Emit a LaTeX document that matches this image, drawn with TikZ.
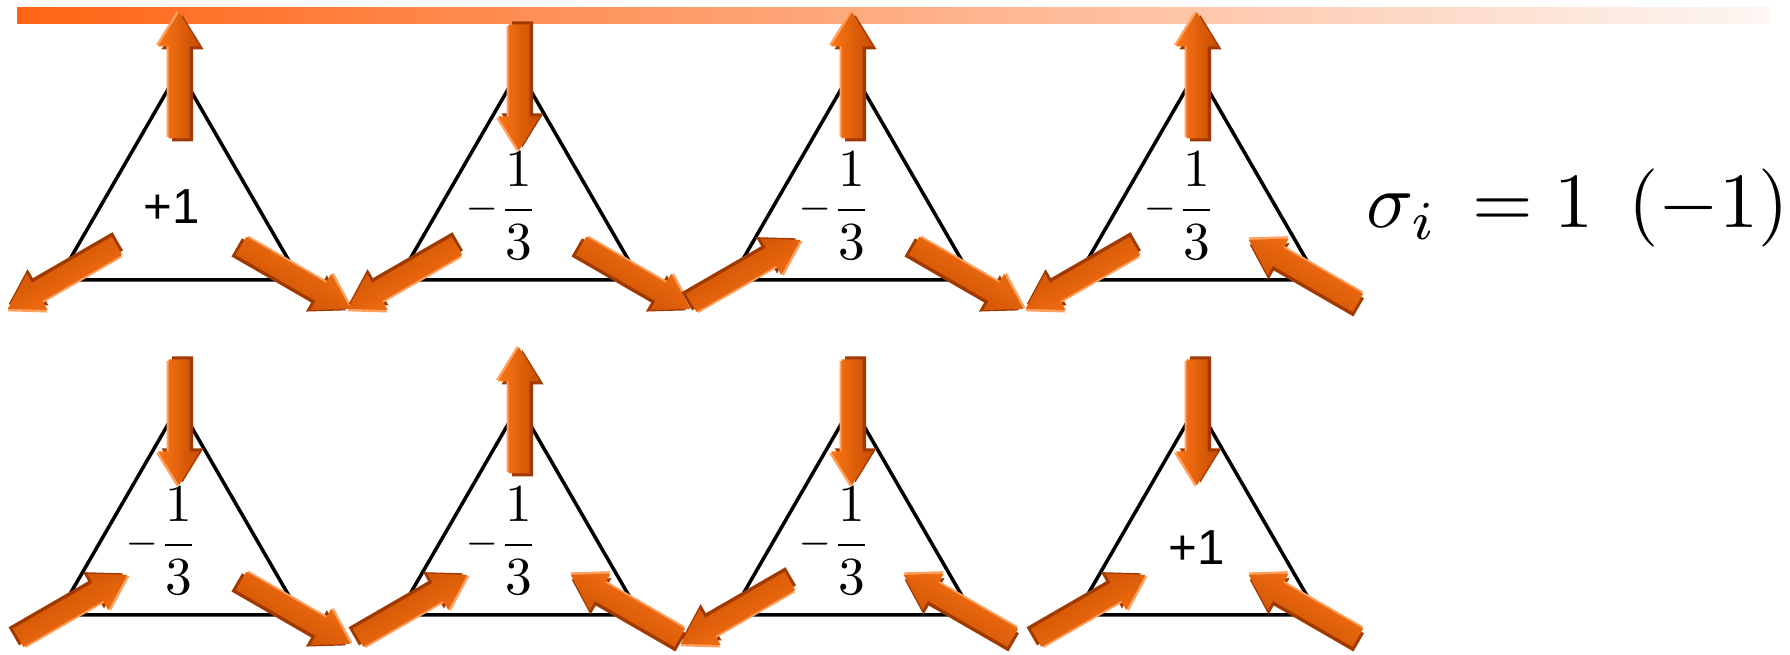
\RequirePackage{fix-cm}
\documentclass[tikz,border=0pt]{standalone}
\usepackage{amsmath}
\usepackage{graphicx}
\usepackage{fontspec}
\newfontfamily\labelsans{Liberation Sans}
\usepackage{tikz}
\usetikzlibrary{positioning}
\usepackage{xcolor}

\definecolor{barleft}{RGB}{255,100,20}
\definecolor{barmid}{RGB}{252,170,150}
\definecolor{barright}{RGB}{253,247,244}
\definecolor{spinhi}{RGB}{252,118,22}
\definecolor{spinmain}{RGB}{232,94,4}
\definecolor{spinlo}{RGB}{198,76,0}
\definecolor{spinlight}{RGB}{255,160,95}
\definecolor{spindark}{RGB}{160,58,0}

\newcommand{\plusone}{{\labelsans\fontsize{14}{14}\selectfont +1}}
\newcommand{\third}{\scalebox{1.52}{$\vcenter{\hbox{$\scriptstyle-$}}\dfrac{1}{3}$}}

% block arrow on a vertex: #1 vertex, #2 outward angle, #3 = 1 out / -1 in
\newcommand{\spinarrow}[3]{%
  \ifnum#3>0 \def\spinoff{-5}\else\def\spinoff{-17}\fi
  \begin{scope}[shift={(#1)}, rotate=#2-90, shift={(0,\spinoff)}, yscale=#3]
    \fill[spindark, shift={(3.5,-3)}, spinshape];
    \fill[spinlight, shift={(-2,1.5)}, spinshape];
    \shade[top color=spinhi, middle color=spinmain, bottom color=spinlo, shading angle=#2, spinshape];
  \end{scope}}

\begin{document}
\begin{tikzpicture}[x=0.01cm, y=0.01cm,
    tri/.style={draw=black, line width=1pt},
    charge/.style={inner sep=0pt},
    spinshape/.style={insert path={(-10.5,-63) -- (-10.5,29) -- (-21,29) -- (0,63)
        -- (21,29) -- (10.5,29) -- (10.5,-63) -- cycle}}]
  \useasboundingbox (0,0) rectangle (1790,-655);
  % bar along the top
  \shade[left color=barleft, middle color=barmid, right color=barright] (17,-8) rectangle (1770,-24);

  % name/x/y/top/left/right spin (1 out, -1 in)/label/label shift
  \foreach \n/\cx/\cy/\sa/\sb/\sc/\q/\dx/\dy in {
      t1/179/210/1/1/1/\plusone/-7/3,
      t2/519/210/-1/1/1/\third/-17/4,
      t3/852/210/1/-1/1/\third/-17/4,
      t4/1197/210/1/1/-1/\third/-17/4,
      t5/179/545/-1/-1/1/\third/-17/4,
      t6/519/545/1/-1/-1/\third/-17/4,
      t7/852/545/-1/1/-1/\third/-17/4,
      t8/1197/545/-1/-1/-1/\plusone/0/-3}{
    \coordinate (\n) at (\cx,-\cy);
    \path (\n) ++(90:139.7) coordinate (\n-a)
          (\n) ++(210:139.7) coordinate (\n-b)
          (\n) ++(330:139.7) coordinate (\n-c);
    \draw[tri] (\n-a) -- (\n-b) -- (\n-c) -- cycle;
    \path (\n) ++(\dx,\dy) node[charge] (\n-q) {\q};
    \spinarrow{\n-a}{90}{\sa}
    \spinarrow{\n-b}{210}{\sb}
    \spinarrow{\n-c}{330}{\sc}
  }

  \node[charge, anchor=base west] (sigma) at (1366,-228)
    {\scalebox{2.22}{$\sigma_i\,=1\;\,(-1)$}};
\end{tikzpicture}
\end{document}
